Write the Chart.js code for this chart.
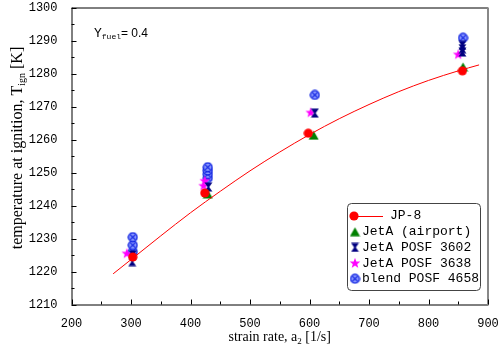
<!DOCTYPE html>
<html>
<head>
<meta charset="utf-8">
<script src="https://cdn.jsdelivr.net/npm/chart.js@4.4.0/dist/chart.umd.min.js"></script>
<style>
html, body { margin: 0; padding: 0; background: #fff; }
#wrap { width: 503px; height: 349px; }
</style>
</head>
<body>
<div id="wrap"><canvas id="chart"></canvas></div>
<script>
// values
const jp8X = [303, 424, 598, 857];
const jp8Y = [1224.4, 1243.8, 1261.9, 1280.8];

const airportX = [429, 607, 858];
const airportY = [1243.5, 1261.3, 1282];

const posf3602X = [302, 303, 430, 609, 857, 857, 857];
const posf3602Y = [1223, 1225, 1245.6, 1268, 1286.5, 1287.5, 1288.5];

const posf3638X = [293, 422, 424, 602, 850];
const posf3638Y = [1225.5, 1246, 1247.5, 1268.2, 1285.8];

const blendX = [303, 303, 303, 429, 429, 429, 429, 609, 858];
const blendY = [1226, 1228, 1230.4, 1248.3, 1249.5, 1250.6, 1251.6, 1273.5, 1290.8];

// red fitted curve, read at a few x positions
const fitX = [270, 300, 350, 400, 450, 500, 550, 600, 650, 700, 750, 800, 850, 885];
const fitY = [1219.3, 1223.6, 1230.8, 1237.8, 1244.3, 1250.5, 1256.2, 1261.5, 1266.3, 1270.6, 1274.5, 1277.9, 1280.8, 1282.6];

const xTicks = [200, 300, 400, 500, 600, 700, 800, 900];
const yTicks = [1210, 1220, 1230, 1240, 1250, 1260, 1270, 1280, 1290, 1300];

function pairs(xs, ys) {
    return xs.map((x, i) => ({ x: x, y: ys[i] }));
}

// marker images
function marker(w, h, draw) {
    const c = document.createElement('canvas');
    c.width = w; c.height = h;
    draw(c.getContext('2d'), w, h);
    return c;
}

const redDot = marker(10, 10, (g) => {
    g.fillStyle = '#ff0000';
    g.beginPath(); g.arc(5, 5, 4.6, 0, Math.PI * 2); g.fill();
});

const greenTri = marker(11, 10, (g) => {
    g.fillStyle = '#008000';
    g.beginPath(); g.moveTo(5.5, 0.5); g.lineTo(10.5, 9.5); g.lineTo(0.5, 9.5); g.closePath(); g.fill();
});

const navyGlass = marker(9, 10, (g) => {
    g.fillStyle = '#000080';
    g.beginPath();
    g.moveTo(0.5, 0.5); g.lineTo(8.5, 0.5); g.lineTo(5.3, 5); g.lineTo(8.5, 9.5);
    g.lineTo(0.5, 9.5); g.lineTo(3.7, 5); g.closePath(); g.fill();
});

const pinkStar = marker(12, 12, (g) => {
    g.fillStyle = '#ff00ff';
    g.beginPath();
    for (let i = 0; i < 10; i++) {
        const r = i % 2 === 0 ? 5.6 : 2.3;
        const a = -Math.PI / 2 + i * Math.PI / 5;
        const px = 6 + r * Math.cos(a), py = 6.3 + r * Math.sin(a);
        if (i === 0) g.moveTo(px, py); else g.lineTo(px, py);
    }
    g.closePath(); g.fill();
});

const blueCross = marker(11, 11, (g) => {
    g.fillStyle = '#8a98ff';
    g.strokeStyle = '#0a1ee0';
    g.lineWidth = 1.3;
    g.beginPath(); g.arc(5.5, 5.5, 4.4, 0, Math.PI * 2); g.fill(); g.stroke();
    g.lineWidth = 1.1;
    g.beginPath();
    g.moveTo(2.8, 2.8); g.lineTo(8.2, 8.2);
    g.moveTo(8.2, 2.8); g.lineTo(2.8, 8.2);
    g.stroke();
});

const legendItems = [
    { text: 'JP-8', img: redDot, line: true },
    { text: 'JetA (airport)', img: greenTri },
    { text: 'JetA POSF 3602', img: navyGlass },
    { text: 'JetA POSF 3638', img: pinkStar },
    { text: 'blend POSF 4658', img: blueCross }
];

// text with one subscript part
function subText(g, x, y, parts, align) {
    let total = 0;
    parts.forEach(p => { g.font = p.font; total += g.measureText(p.t).width; });
    let cx = align === 'center' ? x - total / 2 : x;
    parts.forEach(p => {
        g.font = p.font;
        g.fillText(p.t, cx, y + (p.dy || 0));
        cx += g.measureText(p.t).width;
    });
}

const framePlugin = {
    id: 'frame',
    afterDraw(chart) {
        const g = chart.ctx;
        const a = chart.chartArea;
        const xs = chart.scales.x, ys = chart.scales.y;
        g.save();

        // frame
        g.strokeStyle = '#000';
        g.lineWidth = 1;
        g.beginPath();
        g.moveTo(a.left + 0.5, a.top + 0.5); g.lineTo(a.right, a.top + 0.5);
        g.moveTo(a.left + 0.5, a.top); g.lineTo(a.left + 0.5, a.bottom + 0.5);
        g.lineTo(a.right, a.bottom + 0.5);
        g.stroke();
        g.strokeStyle = '#888';
        g.lineWidth = 2;
        g.beginPath(); g.moveTo(a.right, a.top); g.lineTo(a.right, a.bottom + 1); g.stroke();

        // inside ticks
        g.strokeStyle = '#000';
        g.lineWidth = 1;
        g.beginPath();
        xTicks.forEach((v, i) => {
            const px = Math.round(xs.getPixelForValue(v)) + 0.5;
            g.moveTo(px, a.bottom); g.lineTo(px, a.bottom - 5);
            if (i < xTicks.length - 1) {
                const mx = Math.round(xs.getPixelForValue(v + 50)) + 0.5;
                g.moveTo(mx, a.bottom); g.lineTo(mx, a.bottom - 3);
            }
        });
        yTicks.forEach((v, i) => {
            const py = Math.round(ys.getPixelForValue(v)) + 0.5;
            g.moveTo(a.left, py); g.lineTo(a.left + 5, py);
            if (i < yTicks.length - 1) {
                const my = Math.round(ys.getPixelForValue(v + 5)) + 0.5;
                g.moveTo(a.left, my); g.lineTo(a.left + 3, my);
            }
        });
        g.stroke();

        // axis titles
        g.fillStyle = '#000';
        g.textBaseline = 'alphabetic';
        g.textAlign = 'left';
        const serif = '"Liberation Serif", serif';
        subText(g, (a.left + a.right) / 2, 341, [
            { t: 'strain rate, a', font: '14px ' + serif },
            { t: '2', font: '9px ' + serif, dy: 3 },
            { t: ' [1/s]', font: '14px ' + serif }
        ], 'center');

        g.save();
        g.translate(22, 148);
        g.rotate(-Math.PI / 2);
        subText(g, 0, 0, [
            { t: 'temperature at ignition, T', font: '16px ' + serif },
            { t: 'ign', font: '10px ' + serif, dy: 3 },
            { t: ' [K]', font: '16px ' + serif }
        ], 'center');
        g.restore();

        // annotation
        const mono = '"Liberation Mono", monospace';
        subText(g, 94, 37, [
            { t: 'Y', font: '13px ' + mono },
            { t: 'fuel', font: '8px ' + mono, dy: 2 },
            { t: '= 0.4', font: '12px "Liberation Sans", sans-serif' }
        ], 'left');

        // legend
        const bx = 347.5, by = 203.5, bw = 133, bh = 87;
        g.fillStyle = '#fff';
        g.strokeStyle = '#444';
        g.lineWidth = 1;
        g.beginPath(); g.roundRect(bx, by, bw, bh, 4); g.fill(); g.stroke();
        g.font = '13px ' + mono;
        g.textBaseline = 'middle';
        g.fillStyle = '#000';
        legendItems.forEach((it, i) => {
            const ry = 216 + i * 15.7;
            if (it.line) {
                g.strokeStyle = '#ff0000';
                g.beginPath(); g.moveTo(354, ry + 0.5); g.lineTo(383, ry + 0.5); g.stroke();
                g.drawImage(it.img, 354 - it.img.width / 2, ry - it.img.height / 2);
                g.fillText(it.text, 390, ry);
            } else {
                g.drawImage(it.img, 355 - it.img.width / 2, ry - it.img.height / 2);
                g.fillText(it.text, 362, ry);
            }
        });
        g.restore();
    }
};

function pointSet(label, xs, ys, img) {
    return {
        label: label,
        data: pairs(xs, ys),
        pointStyle: img,
        showLine: false,
        borderColor: 'transparent',
        backgroundColor: 'transparent'
    };
}

new Chart(document.getElementById('chart'), {
    type: 'scatter',
    data: {
        datasets: [
            {
                label: 'fit',
                data: pairs(fitX, fitY),
                showLine: true,
                pointRadius: 0,
                borderColor: '#ff0000',
                borderWidth: 1,
                tension: 0.4,
                cubicInterpolationMode: 'monotone'
            },
            pointSet('JP-8', jp8X, jp8Y, redDot),
            pointSet('JetA (airport)', airportX, airportY, greenTri),
            pointSet('JetA POSF 3602', posf3602X, posf3602Y, navyGlass),
            pointSet('JetA POSF 3638', posf3638X, posf3638Y, pinkStar),
            pointSet('blend POSF 4658', blendX, blendY, blueCross)
        ]
    },
    options: {
        responsive: true,
        maintainAspectRatio: false,
        animation: false,
        layout: { padding: { top: 7.5, right: 15, left: 0, bottom: 0 } },
        plugins: {
            legend: { display: false },
            tooltip: { enabled: false }
        },
        scales: {
            x: {
                type: 'linear',
                min: 200,
                max: 900,
                afterBuildTicks: (s) => { s.ticks = xTicks.map(v => ({ value: v })); },
                afterFit: (s) => { s.height = 44.5; s.paddingLeft = 0; s.paddingRight = 0; },
                grid: { display: false },
                border: { display: false },
                ticks: {
                    color: '#000',
                    padding: 4,
                    maxRotation: 0,
                    callback: (v) => String(v),
                    font: { family: '"Liberation Mono", monospace', size: 12 }
                }
            },
            y: {
                type: 'linear',
                min: 1210,
                max: 1300,
                afterBuildTicks: (s) => { s.ticks = yTicks.map(v => ({ value: v })); },
                afterFit: (s) => { s.width = 71.5; s.paddingTop = 0; s.paddingBottom = 0; },
                grid: { display: false },
                border: { display: false },
                ticks: {
                    color: '#000',
                    padding: 6,
                    callback: (v) => String(v),
                    font: { family: '"Liberation Mono", monospace', size: 12 }
                }
            }
        }
    },
    plugins: [framePlugin]
});
</script>
</body>
</html>
